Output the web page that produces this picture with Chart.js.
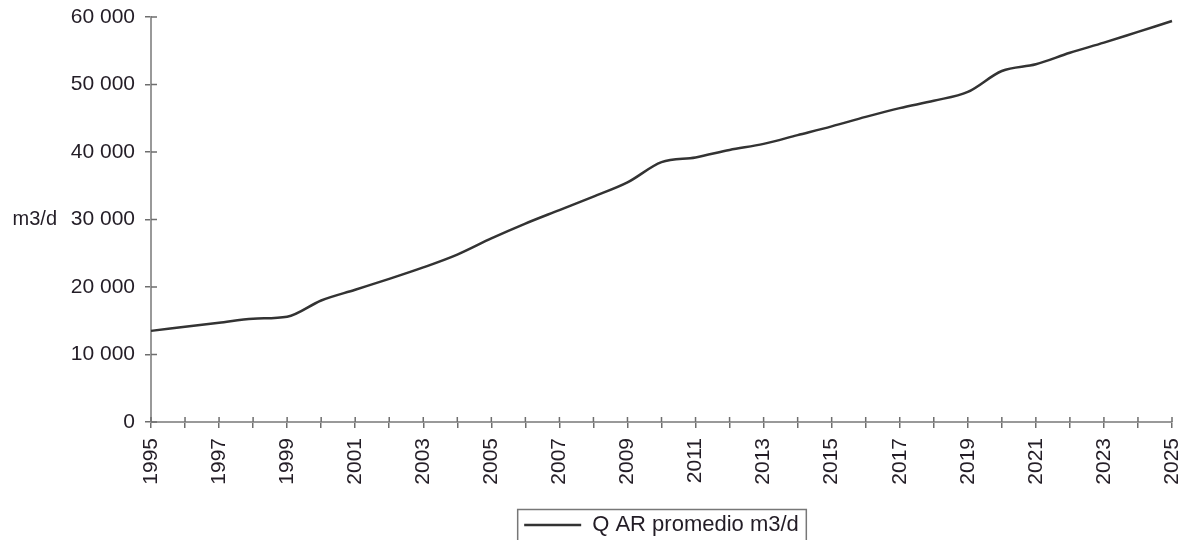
<!DOCTYPE html>
<html lang="es">
<head>
    <meta charset="UTF-8">
    <title>Q AR promedio m3/d</title>
    <script src="https://cdn.jsdelivr.net/npm/chart.js"></script>
    <style>
        body {
            margin: 0;
            padding: 0;
            background: #ffffff;
        }

        .chart-container {
            position: relative;
            width: 1182px;
            height: 540px;
        }
    </style>
</head>
<body>
    <div class="chart-container">
        <canvas id="caudalChart"></canvas>
    </div>

    <script>
        // Datos
        const years = [
            '1995', '1996', '1997', '1998', '1999', '2000', '2001', '2002', '2003', '2004',
            '2005', '2006', '2007', '2008', '2009', '2010', '2011', '2012', '2013', '2014',
            '2015', '2016', '2017', '2018', '2019', '2020', '2021', '2022', '2023', '2024', '2025'
        ];
        const caudalPromedio = [
            13500, 14100, 14700, 15300, 15600, 18000, 19600, 21200, 22900, 24800,
            27200, 29400, 31400, 33400, 35500, 38500, 39200, 40300, 41200, 42500,
            43800, 45200, 46500, 47600, 48900, 52000, 53000, 54700, 56200, 57800, 59400
        ];
        const yTicks = [0, 10000, 20000, 30000, 40000, 50000, 60000];
        const seriesLabel = 'Q AR promedio m3/d';
        const yUnit = 'm3/d';

        const textColor = '#231d26';
        const axisColor = '#999999';
        const fontFamily = '"Liberation Sans", Arial, sans-serif';

        function formatMiles(v) {
            return v.toString().replace(/\B(?=(\d{3})+(?!\d))/g, ' ');
        }

        // ticks que cruzan el eje, unidad del eje y, marco de la leyenda
        const extras = {
            id: 'extras',
            afterDraw(chart) {
                const c = chart.ctx;
                const xs = chart.scales.x;
                const ys = chart.scales.y;
                const area = chart.chartArea;
                c.save();
                c.strokeStyle = '#6e6e6e';
                c.lineWidth = 1.5;
                c.beginPath();
                ys.ticks.forEach((t, i) => {
                    const py = ys.getPixelForTick(i);
                    c.moveTo(area.left, py);
                    c.lineTo(area.left + 6, py);
                });
                xs.ticks.forEach((t, i) => {
                    const px = xs.getPixelForTick(i);
                    c.moveTo(px, area.bottom);
                    c.lineTo(px, area.bottom - 5);
                });
                c.stroke();

                c.fillStyle = textColor;
                c.font = '20px ' + fontFamily;
                c.textAlign = 'right';
                c.textBaseline = 'middle';
                c.fillText(yUnit, area.left - 94, ys.getPixelForValue(30000));

                const lg = chart.legend;
                const hb = lg.legendHitBoxes[0];
                c.strokeStyle = '#777777';
                c.lineWidth = 1.5;
                c.strokeRect(hb.left - 6.5, lg.top - 1.5, hb.width + 14, lg.height + 10);
                c.restore();
            }
        };

        const ctx = document.getElementById('caudalChart').getContext('2d');
        const caudalChart = new Chart(ctx, {
            type: 'line',
            data: {
                labels: years,
                datasets: [{
                    label: seriesLabel,
                    data: caudalPromedio,
                    borderColor: '#333333',
                    borderWidth: 2.5,
                    pointRadius: 0,
                    cubicInterpolationMode: 'monotone',
                    fill: false
                }]
            },
            options: {
                responsive: true,
                maintainAspectRatio: false,
                animation: false,
                layout: {
                    padding: { top: 17, right: 10, left: 0, bottom: -6 }
                },
                plugins: {
                    tooltip: { enabled: false },
                    legend: {
                        position: 'bottom',
                        fullSize: false,
                        labels: {
                            color: textColor,
                            font: { family: fontFamily, size: 22 },
                            usePointStyle: true,
                            pointStyle: 'line',
                            pointStyleWidth: 57,
                            boxHeight: 22,
                            padding: 3
                        }
                    }
                },
                scales: {
                    x: {
                        type: 'category',
                        offset: false,
                        afterFit(scale) {
                            scale.height = 89;
                            scale.paddingRight = 0;
                            scale.paddingLeft = 0;
                        },
                        border: { color: axisColor, width: 2 },
                        grid: {
                            drawOnChartArea: false,
                            drawTicks: true,
                            tickLength: 6,
                            color: '#6e6e6e',
                            lineWidth: 1.5
                        },
                        ticks: {
                            autoSkip: false,
                            minRotation: 90,
                            maxRotation: 90,
                            padding: 10,
                            color: textColor,
                            font: { family: fontFamily, size: 21 },
                            callback(value, index) {
                                return index % 2 === 0 ? years[index] : '';
                            }
                        }
                    },
                    y: {
                        min: 0,
                        max: 60000,
                        afterFit(scale) {
                            scale.width = 151;
                            scale.paddingTop = 0;
                            scale.paddingBottom = 0;
                        },
                        afterBuildTicks(scale) {
                            scale.ticks = yTicks.map(v => ({ value: v }));
                        },
                        border: { color: axisColor, width: 2 },
                        grid: {
                            drawOnChartArea: false,
                            drawTicks: true,
                            tickLength: 6,
                            color: '#6e6e6e',
                            lineWidth: 1.5
                        },
                        ticks: {
                            padding: 10,
                            color: textColor,
                            font: { family: fontFamily, size: 21 },
                            callback(value) {
                                return formatMiles(value);
                            }
                        }
                    }
                }
            },
            plugins: [extras]
        });
    </script>
</body>
</html>
